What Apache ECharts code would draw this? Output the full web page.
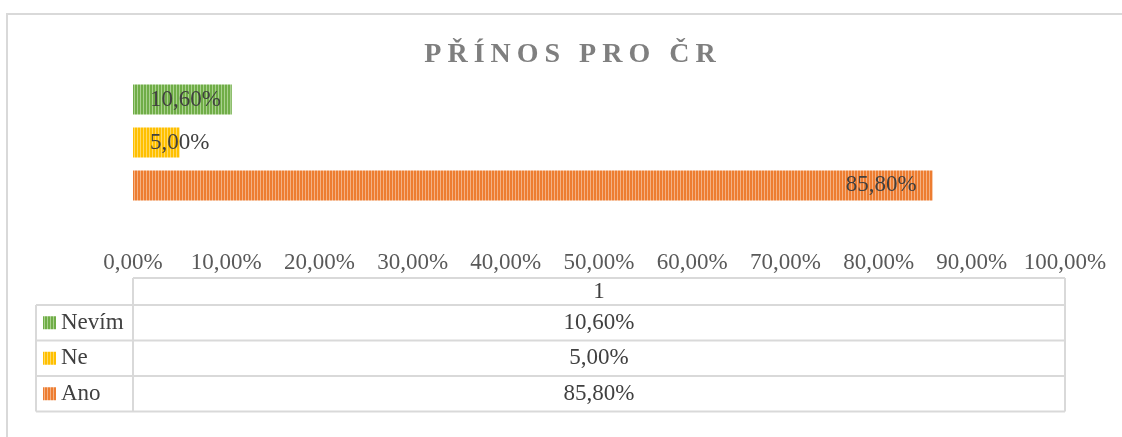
<!DOCTYPE html>
<html lang="cs">
<head>
    <meta charset="utf-8" />
    <title>Přínos pro ČR</title>
    <style>
        html, body { margin: 0; padding: 0; background: #fff; }
        #main { width: 1122px; height: 437px; }
    </style>
</head>
<body>
    <div id="main"></div>
    <script src="https://cdn.jsdelivr.net/npm/echarts@6/dist/echarts.min.js"></script>
    <script>
    // data
    var titleText = 'PŘÍNOS PRO ČR';
    var categories = ['1'];
    var seriesNames = ['Nevím', 'Ne', 'Ano'];   // top to bottom
    var seriesValues = [10.6, 5.0, 85.8];      // %
    var xTicks = [0, 100, 10];                  // min, max, step

    var baseColors = ['#70ad47', '#ffc000', '#ed7d31'];
    var lightColors = ['#a9d18e', '#ffd966', '#f4b183'];
    var fontName = '"Liberation Serif", "Times New Roman", serif';

    // svislé pruhy jako v Excelu
    function stripes(base, light) {
        var c = document.createElement('canvas');
        c.width = 3;
        c.height = 4;
        var ctx = c.getContext('2d');
        ctx.fillStyle = base;
        ctx.fillRect(0, 0, 3, 4);
        ctx.fillStyle = light;
        ctx.fillRect(2, 0, 1, 4);
        return { image: c, repeat: 'repeat' };
    }
    var patterns = baseColors.map(function (c, i) { return stripes(c, lightColors[i]); });

    function pct(v) {
        return v.toFixed(2).replace('.', ',') + '%';
    }

    // titulek s prostrkaným písmem
    var titleRich = titleText.split('').map(function (ch) { return '{c|' + ch + '}'; }).join('');

    var series = seriesNames.map(function (name, i) {
        var v = seriesValues[i];
        return {
            name: name,
            type: 'bar',
            barWidth: 30,
            barGap: '43%',
            itemStyle: { color: patterns[i] },
            label: {
                show: true,
                position: v > 50 ? 'insideRight' : 'insideLeft',
                distance: v > 50 ? 16 : 17,
                formatter: function (p) { return pct(p.value); },
                color: '#404040',
                fontFamily: fontName,
                fontSize: 23
            },
            data: [v]
        };
    });

    var myChart = echarts.init(document.getElementById('main'));
    var option = {
        animation: false,
        title: {
            text: titleRich,
            left: 570,
            top: 41,
            textAlign: 'center',
            padding: 0,
            textStyle: {
                fontFamily: fontName,
                fontSize: 28,
                fontWeight: 'bold',
                color: '#7f7f7f',
                rich: {
                    c: {
                        fontFamily: fontName,
                        fontSize: 28,
                        fontWeight: 'bold',
                        color: '#7f7f7f',
                        padding: [0, 3]
                    }
                }
            }
        },
        grid: {
            left: 133,
            right: 57,
            top: 62,
            height: 161
        },
        xAxis: {
            type: 'value',
            min: xTicks[0],
            max: xTicks[1],
            interval: xTicks[2],
            axisLine: { show: false },
            axisTick: { show: false },
            splitLine: { show: false },
            axisLabel: {
                margin: 28,
                color: '#595959',
                fontFamily: fontName,
                fontSize: 23,
                formatter: function (v) { return pct(v); }
            }
        },
        yAxis: {
            type: 'category',
            data: categories,
            show: false
        },
        series: series
    };
    myChart.setOption(option);

    // datová tabulka pod grafem
    function drawTable() {
        var x0 = myChart.convertToPixel({ xAxisIndex: 0 }, xTicks[0]);
        var x1 = myChart.convertToPixel({ xAxisIndex: 0 }, xTicks[1]);
        var headTop = 278, headH = 27, rowH = 35.5, keyLeft = 36;
        var rowsTop = headTop + headH;
        var bottom = rowsTop + rowH * seriesNames.length;
        var lineStyle = { stroke: '#d9d9d9', lineWidth: 2 };
        var txt = { fontFamily: fontName, fontSize: 23, fill: '#404040' };
        var g = [];

        // rámeček celého grafu
        g.push({ type: 'rect', shape: { x: 7, y: 14, width: 1300, height: 600 },
            style: { fill: 'none', stroke: '#d9d9d9', lineWidth: 2 }, silent: true });

        function line(xa, ya, xb, yb) {
            g.push({ type: 'line', shape: { x1: xa, y1: ya, x2: xb, y2: yb }, style: lineStyle, silent: true });
        }
        line(x0, headTop, x1, headTop);
        for (var r = 0; r <= seriesNames.length; r++) {
            line(keyLeft, rowsTop + r * rowH, x1, rowsTop + r * rowH);
        }
        line(keyLeft, rowsTop, keyLeft, bottom);
        line(x0, headTop, x0, bottom);
        line(x1, headTop, x1, bottom);

        g.push({ type: 'text', x: (x0 + x1) / 2, y: headTop + headH / 2,
            style: Object.assign({ text: categories[0], align: 'center', verticalAlign: 'middle' }, txt) });

        seriesNames.forEach(function (name, i) {
            var cy = rowsTop + rowH * i + rowH / 2;
            g.push({ type: 'rect', shape: { x: 43, y: cy - 6.5, width: 13, height: 13 },
                style: { fill: patterns[i] }, silent: true });
            g.push({ type: 'text', x: 61, y: cy,
                style: Object.assign({ text: name, align: 'left', verticalAlign: 'middle' }, txt) });
            g.push({ type: 'text', x: (x0 + x1) / 2, y: cy,
                style: Object.assign({ text: pct(seriesValues[i]), align: 'center', verticalAlign: 'middle' }, txt) });
        });
        myChart.setOption({ graphic: g });
    }
    drawTable();
    </script>
</body>
</html>
